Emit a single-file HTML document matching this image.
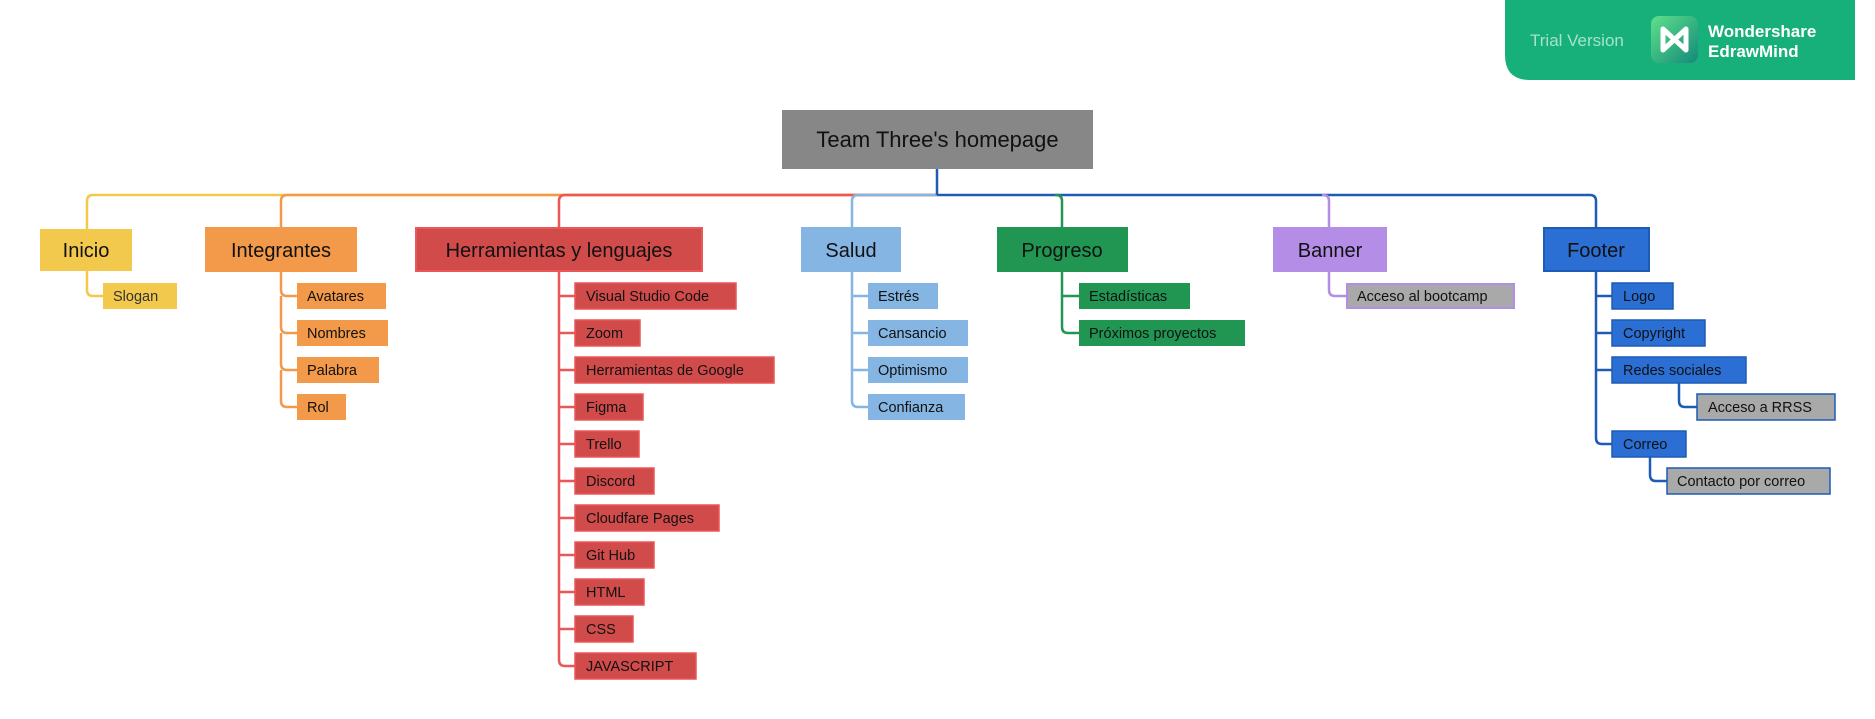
<!DOCTYPE html>
<html><head><meta charset="utf-8"><style>
html,body{margin:0;padding:0;background:#fff;}
body{width:1875px;height:719px;overflow:hidden;position:relative;font-family:"Liberation Sans",Arial,sans-serif;}
svg{position:absolute;left:0;top:0;}
</style></head><body>
<svg width="1875" height="719" viewBox="0 0 1875 719" xmlns="http://www.w3.org/2000/svg" font-family="Liberation Sans, Arial, sans-serif">
<g fill="none" stroke-width="2.5">
<path d="M937,195 H93 Q87,195 87,201 V229" stroke="#f2c94c"/>
<path d="M937,195 H287 Q281,195 281,201 V227" stroke="#f2994a"/>
<path d="M937,195 H565 Q559,195 559,201 V227" stroke="#eb5757"/>
<path d="M937,195 H858 Q852,195 852,201 V227" stroke="#85b6e3"/>
<path d="M937,195 H1590 Q1596,195 1596,201 V227" stroke="#1d5bb5"/>
<path d="M1055,195 H1056 Q1062,195 1062,201 V227" stroke="#219653"/>
<path d="M1322,195 H1323 Q1329,195 1329,201 V227" stroke="#b48de6"/>
<path d="M937,169 V195" stroke="#1d5bb5"/>
<path d="M87,271 V290 Q87,296 93,296 H103" stroke="#f2c94c"/>
<g stroke="#f2994a">
<path d="M281,272 V290 Q281,296 287,296 H297"/><path d="M281,296 V327 Q281,333 287,333 H297"/><path d="M281,333 V364 Q281,370 287,370 H297"/><path d="M281,370 V401 Q281,407 287,407 H297"/>
</g>
<g stroke="#eb5757">
<path d="M559,272 V660 Q559,666 565,666 H575"/>
<path d="M559,296 H575"/><path d="M559,333 H575"/><path d="M559,370 H575"/><path d="M559,407 H575"/><path d="M559,444 H575"/><path d="M559,481 H575"/><path d="M559,518 H575"/><path d="M559,555 H575"/><path d="M559,592 H575"/><path d="M559,629 H575"/>
</g>
<g stroke="#85b6e3">
<path d="M852,272 V401 Q852,407 858,407 H868"/><path d="M852,296 H868"/><path d="M852,333 H868"/><path d="M852,370 H868"/>
</g>
<g stroke="#219653">
<path d="M1062,272 V327 Q1062,333 1068,333 H1079"/><path d="M1062,296 H1079"/>
</g>
<path d="M1329,272 V290 Q1329,296 1335,296 H1346" stroke="#b48de6"/>
<g stroke="#1d5bb5">
<path d="M1596,272 V438 Q1596,444 1602,444 H1612"/><path d="M1596,296 H1612"/><path d="M1596,333 H1612"/><path d="M1596,370 H1612"/>
<path d="M1679,383 V401 Q1679,407 1685,407 H1697"/>
<path d="M1650,457 V475 Q1650,481 1656,481 H1667"/>
</g>
</g>
<rect x="782" y="110" width="311" height="59" fill="#878787"/>
<text x="937.5" y="147" font-size="22" text-anchor="middle" fill="#111">Team Three's homepage</text>
<g font-size="20" fill="#111" text-anchor="middle">
<rect x="40" y="229" width="92" height="42" fill="#f2c94c"/><text x="86" y="257">Inicio</text>
<rect x="205" y="227" width="152" height="45" fill="#f2994a"/><text x="281" y="257">Integrantes</text>
<rect x="416" y="228" width="286" height="43" fill="#d14b4b" stroke="#eb5757" stroke-width="2"/><text x="559" y="257">Herramientas y lenguajes</text>
<rect x="801" y="227" width="100" height="45" fill="#85b6e3"/><text x="851" y="257">Salud</text>
<rect x="997" y="227" width="131" height="45" fill="#219653"/><text x="1062" y="257">Progreso</text>
<rect x="1273" y="227" width="114" height="45" fill="#b48de6"/><text x="1330" y="257">Banner</text>
<rect x="1544" y="228" width="105" height="43" fill="#2b6fd4" stroke="#1d5bb5" stroke-width="2"/><text x="1596" y="257">Footer</text>
</g>
<g font-size="14.5" fill="#111">
<rect x="103" y="283" width="74" height="26" fill="#f2c94c"/><text x="113" y="301" fill="#333">Slogan</text>
<rect x="297" y="283" width="89" height="26" fill="#f2994a"/><text x="307" y="301">Avatares</text>
<rect x="297" y="320" width="91" height="26" fill="#f2994a"/><text x="307" y="338">Nombres</text>
<rect x="297" y="357" width="82" height="26" fill="#f2994a"/><text x="307" y="375">Palabra</text>
<rect x="297" y="394" width="49" height="26" fill="#f2994a"/><text x="307" y="412">Rol</text>
<g stroke="#eb5757" stroke-width="1.5">
<rect x="575" y="283" width="161" height="26" fill="#d14b4b"/>
<rect x="575" y="320" width="65" height="26" fill="#d14b4b"/>
<rect x="575" y="357" width="199" height="26" fill="#d14b4b"/>
<rect x="575" y="394" width="68" height="26" fill="#d14b4b"/>
<rect x="575" y="431" width="64" height="26" fill="#d14b4b"/>
<rect x="575" y="468" width="79" height="26" fill="#d14b4b"/>
<rect x="575" y="505" width="144" height="26" fill="#d14b4b"/>
<rect x="575" y="542" width="79" height="26" fill="#d14b4b"/>
<rect x="575" y="579" width="69" height="26" fill="#d14b4b"/>
<rect x="575" y="616" width="58" height="26" fill="#d14b4b"/>
<rect x="575" y="653" width="121" height="26" fill="#d14b4b"/>
</g>
<text x="586" y="301">Visual Studio Code</text>
<text x="586" y="338">Zoom</text>
<text x="586" y="375">Herramientas de Google</text>
<text x="586" y="412">Figma</text>
<text x="586" y="449">Trello</text>
<text x="586" y="486">Discord</text>
<text x="586" y="523">Cloudfare Pages</text>
<text x="586" y="560">Git Hub</text>
<text x="586" y="597">HTML</text>
<text x="586" y="634">CSS</text>
<text x="586" y="671">JAVASCRIPT</text>
<rect x="868" y="283" width="70" height="26" fill="#85b6e3"/><text x="878" y="301">Estrés</text>
<rect x="868" y="320" width="100" height="26" fill="#85b6e3"/><text x="878" y="338">Cansancio</text>
<rect x="868" y="357" width="100" height="26" fill="#85b6e3"/><text x="878" y="375">Optimismo</text>
<rect x="868" y="394" width="97" height="26" fill="#85b6e3"/><text x="878" y="412">Confianza</text>
<rect x="1079" y="283" width="111" height="26" fill="#219653"/><text x="1089" y="301">Estadísticas</text>
<rect x="1079" y="320" width="166" height="26" fill="#219653"/><text x="1089" y="338">Próximos proyectos</text>
<rect x="1347" y="284" width="167" height="24" fill="#a9a9a9" stroke="#b48de6" stroke-width="2"/><text x="1357" y="301">Acceso al bootcamp</text>
<g stroke="#1d5bb5" stroke-width="1.5">
<rect x="1612" y="283" width="61" height="26" fill="#2b6fd4"/>
<rect x="1612" y="320" width="93" height="26" fill="#2b6fd4"/>
<rect x="1612" y="357" width="134" height="26" fill="#2b6fd4"/>
<rect x="1697" y="394" width="138" height="26" fill="#a9a9a9"/>
<rect x="1612" y="431" width="74" height="26" fill="#2b6fd4"/>
<rect x="1667" y="468" width="163" height="26" fill="#a9a9a9"/>
</g>
<text x="1623" y="301">Logo</text>
<text x="1623" y="338">Copyright</text>
<text x="1623" y="375">Redes sociales</text>
<text x="1708" y="412">Acceso a RRSS</text>
<text x="1623" y="449">Correo</text>
<text x="1677" y="486">Contacto por correo</text>
</g>
<path d="M1505,0 H1855 V80 H1530 Q1505,80 1505,55 Z" fill="#17b07a"/>
<text x="1530" y="46" font-size="17" fill="#a6e3c9">Trial Version</text>
<defs><linearGradient id="g" x1="0" y1="0" x2="1" y2="1"><stop offset="0" stop-color="#5fe08a"/><stop offset="1" stop-color="#138a7a"/></linearGradient></defs>
<rect x="1651" y="16" width="47" height="47" rx="8" fill="url(#g)"/>
<path d="M1663,29 V50 M1686,29 V50 M1663,29 L1686,50 M1686,29 L1663,50" fill="none" stroke="#fff" stroke-width="5" stroke-linejoin="round" stroke-linecap="round"/>
<text x="1708" y="37" font-size="17" font-weight="bold" fill="#fff">Wondershare</text>
<text x="1708" y="57" font-size="17" font-weight="bold" fill="#fff">EdrawMind</text>
</svg>
</body></html>
